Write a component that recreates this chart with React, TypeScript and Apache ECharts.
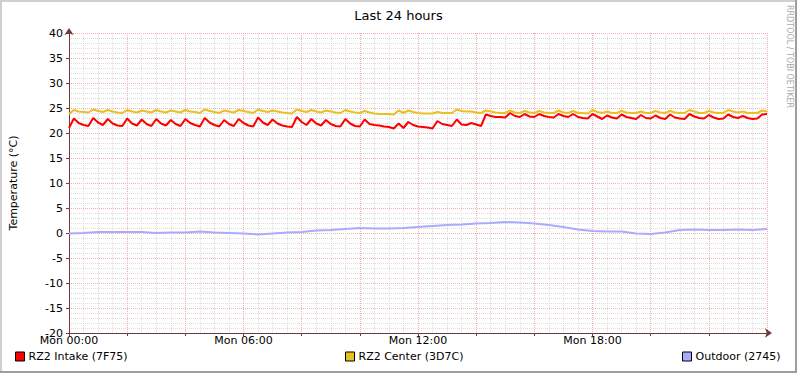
import React, { useEffect, useRef } from "react";
import * as echarts from "echarts";

const FONT = "DejaVu Sans";
const SMALL = 11;

const chartTitle = "Last 24 hours";
const yAxisTitle = "Temperature (°C)";
const watermark = "RRDTOOL / TOBI OETIKER";

const seriesNames = ["RZ2 Intake (7F75)", "RZ2 Center (3D7C)", "Outdoor (2745)"];
const seriesColors = ["#ff0000", "#e8c020", "#aaaaff"];

const xTickLabels = ["Mon 00:00", "Mon 06:00", "Mon 12:00", "Mon 18:00", "Tue 00:00"];

// minutes between samples
const fineStep = 10;
const coarseStep = 30;

const intakeValues = [
  21.0, 22.9, 22.0, 21.6, 21.4, 23.0, 22.1, 21.6, 22.8, 21.9,
  21.5, 21.4, 22.9, 21.9, 21.5, 22.7, 21.8, 21.4, 22.8, 21.9,
  21.5, 22.6, 21.8, 21.4, 22.8, 22.0, 21.6, 21.3, 23.0, 22.1,
  21.6, 21.3, 22.6, 21.8, 21.4, 22.8, 22.0, 21.5, 21.3, 23.1,
  22.1, 21.6, 22.7, 21.9, 21.5, 21.3, 21.2, 23.2, 22.2, 21.6,
  22.8, 21.9, 21.5, 22.6, 21.8, 21.4, 21.3, 22.8, 21.9, 21.4,
  21.3, 22.7, 21.8, 21.6, 21.5, 21.3, 21.2, 20.9, 21.9, 21.0,
  22.2, 21.6, 21.3, 21.2, 21.1, 20.9, 22.4, 21.8, 21.6, 21.4,
  22.7, 21.7, 21.6, 22.0, 21.7, 21.4, 23.7, 23.4, 23.2, 23.2,
  23.1, 24.0, 23.4, 23.2, 23.8, 23.3, 23.2, 23.8, 23.4, 23.2,
  23.1, 23.8, 23.4, 23.2, 23.8, 23.2, 23.0, 22.9, 23.8, 23.3,
  22.8, 23.5, 23.1, 22.9, 23.7, 23.2, 23.0, 22.8, 23.6, 23.0,
  22.9, 23.5, 23.0, 22.8, 23.7, 23.1, 22.9, 22.8, 23.8, 23.3,
  23.0, 22.9, 23.6, 23.1, 22.8, 22.9, 23.7, 23.2, 23.0, 23.4,
  23.0, 22.8, 22.9, 23.7, 23.8,
];

const centerValues = [
  23.8, 24.6, 24.3, 24.2, 24.1, 24.7, 24.4, 24.2, 24.6, 24.3,
  24.1, 24.0, 24.6, 24.3, 24.1, 24.5, 24.3, 24.1, 24.6, 24.3,
  24.1, 24.5, 24.3, 24.1, 24.6, 24.3, 24.2, 24.0, 24.7, 24.4,
  24.2, 24.0, 24.5, 24.3, 24.1, 24.6, 24.4, 24.2, 24.0, 24.7,
  24.4, 24.2, 24.5, 24.3, 24.1, 24.0, 23.9, 24.7, 24.4, 24.2,
  24.6, 24.3, 24.1, 24.5, 24.3, 24.1, 24.0, 24.6, 24.3, 24.1,
  24.0, 24.4, 24.1, 23.9, 23.8, 23.8, 23.8, 23.7, 24.5, 24.0,
  24.5, 24.2, 24.0, 23.9, 23.9, 23.9, 24.2, 24.0, 24.0, 24.0,
  24.7, 24.4, 24.3, 24.3, 24.1, 24.0, 24.5, 24.3, 24.1, 24.0,
  24.0, 24.5, 24.1, 24.0, 24.4, 24.1, 24.0, 24.4, 24.1, 24.0,
  24.0, 24.5, 24.1, 24.0, 24.4, 24.0, 24.0, 23.9, 24.6, 24.2,
  24.0, 24.3, 24.0, 24.0, 24.4, 24.1, 24.0, 24.0, 24.3, 24.0,
  24.0, 24.4, 24.1, 24.0, 24.4, 24.1, 24.0, 24.0, 24.6, 24.3,
  24.0, 24.0, 24.4, 24.1, 24.0, 24.0, 24.6, 24.3, 24.1, 24.3,
  24.0, 24.0, 24.0, 24.5, 24.3,
];

const outdoorValues = [
  -0.1, 0.0, 0.2, 0.2, 0.2, 0.2, 0.0, 0.1, 0.1, 0.3,
  0.1, 0.0, -0.1, -0.3, -0.1, 0.1, 0.2, 0.5, 0.6, 0.8,
  1.0, 0.9, 0.9, 1.0, 1.2, 1.4, 1.6, 1.7, 1.9, 2.0,
  2.2, 2.1, 1.9, 1.6, 1.2, 0.7, 0.4, 0.3, 0.3, -0.1,
  -0.2, 0.1, 0.6, 0.7, 0.6, 0.6, 0.7, 0.6, 0.8,
];

const toPairs = (vals: number[], step: number) => vals.map((v, i) => [i * step, v]);

export default function App() {
  const ref = useRef<HTMLDivElement>(null);
  useEffect(() => {
    if (!ref.current) return;
    const chart = echarts.init(ref.current, undefined, { renderer: "svg" });
    const lineSeries = (idx: number, data: number[][]) => ({
      name: seriesNames[idx],
      type: "line",
      data,
      showSymbol: false,
      symbol: "none",
      color: seriesColors[idx],
      lineStyle: { width: 2, color: seriesColors[idx] },
      z: 3,
    });
    const legendBase = {
      top: 351,
      padding: 0,
      icon: "rect",
      itemWidth: 9,
      itemHeight: 9,
      itemGap: 4,
      itemStyle: { borderColor: "#000", borderWidth: 1 },
      textStyle: { fontFamily: FONT, fontSize: SMALL, color: "#000", padding: [0, 0, 0, -1] },
      selectedMode: false,
    };
    const axisColor = "#6e3a3a";
    const majorGrid = { show: true, lineStyle: { color: "#f0b0b0", type: [1, 1], width: 1 } };
    const minorGrid = { show: true, lineStyle: { color: "#dcdcdc", type: [1, 1], width: 1 } };
    chart.setOption({
      animation: false,
      backgroundColor: "#ffffff",
      title: {
        text: chartTitle,
        left: "center",
        top: 4,
        textStyle: { fontFamily: FONT, fontSize: 13, fontWeight: "normal", color: "#000" },
      },
      legend: [
        { ...legendBase, left: 15, data: [seriesNames[0]] },
        { ...legendBase, left: 345, data: [seriesNames[1]] },
        { ...legendBase, left: 682, data: [seriesNames[2]] },
      ],
      grid: { left: 67, top: 33, width: 700, height: 300, containLabel: false },
      xAxis: {
        type: "value",
        min: 0,
        max: 1440,
        interval: 120,
        axisLine: {
          show: true,
          onZero: false,
          lineStyle: { color: axisColor, width: 1 },
          symbol: ["none", "arrow"],
          symbolSize: [7, 7],
          symbolOffset: [0, 5],
        },
        axisTick: { show: true, length: 3, lineStyle: { color: axisColor } },
        axisLabel: {
          margin: 2,
          fontFamily: FONT,
          fontSize: SMALL,
          color: "#000",
          showMaxLabel: false,
          formatter: (v: number) => (v % 360 === 0 ? xTickLabels[v / 360] : ""),
        },
        splitLine: majorGrid,
        minorTick: { show: false, splitNumber: 4 },
        minorSplitLine: minorGrid,
      },
      yAxis: {
        type: "value",
        min: -20,
        max: 40,
        interval: 5,
        name: yAxisTitle,
        nameLocation: "middle",
        nameRotate: 90,
        nameGap: 50,
        nameTextStyle: { fontFamily: FONT, fontSize: SMALL, color: "#000" },
        axisLine: {
          show: true,
          onZero: false,
          lineStyle: { color: axisColor, width: 1 },
          symbol: ["none", "arrow"],
          symbolSize: [7, 7],
          symbolOffset: [0, 5],
        },
        axisTick: { show: true, length: 3, lineStyle: { color: axisColor } },
        axisLabel: { margin: 6, fontFamily: FONT, fontSize: SMALL, color: "#000" },
        splitLine: majorGrid,
        minorTick: { show: false, splitNumber: 5 },
        minorSplitLine: minorGrid,
      },
      series: [
        lineSeries(0, toPairs(intakeValues, fineStep)),
        lineSeries(1, toPairs(centerValues, fineStep)),
        lineSeries(2, toPairs(outdoorValues, coarseStep)),
      ],
      graphic: [
        { type: "line", shape: { x1: 0, y1: 1, x2: 797, y2: 1 }, style: { stroke: "#cfcfcf", lineWidth: 2 }, silent: true },
        { type: "line", shape: { x1: 1, y1: 0, x2: 1, y2: 373 }, style: { stroke: "#cfcfcf", lineWidth: 2 }, silent: true },
        { type: "line", shape: { x1: 796, y1: 0, x2: 796, y2: 373 }, style: { stroke: "#9e9e9e", lineWidth: 2 }, silent: true },
        { type: "line", shape: { x1: 0, y1: 372, x2: 797, y2: 372 }, style: { stroke: "#9e9e9e", lineWidth: 2 }, silent: true },
        {
          type: "text",
          x: 793,
          y: 5,
          rotation: -Math.PI / 2,
          style: { text: watermark, fill: "#a8a8a8", font: `8px "${FONT}"`, align: "left", verticalAlign: "top" },
          silent: true,
        },
      ],
    });
    return () => chart.dispose();
  }, []);
  return <div ref={ref} style={{ position: "fixed", left: 0, top: 0, width: 797, height: 373 }} />;
}
